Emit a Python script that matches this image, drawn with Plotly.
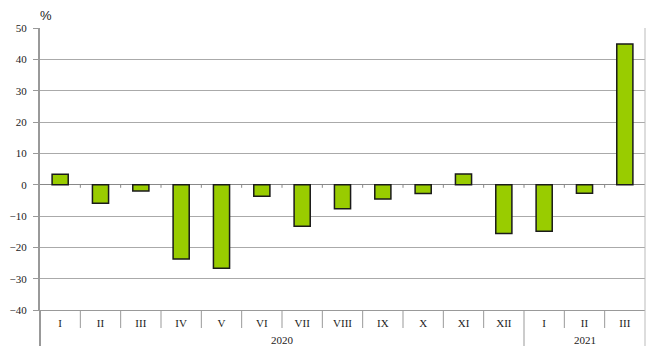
import plotly.graph_objects as go

years = ["2020"] * 12 + ["2021"] * 3
months = ["I", "II", "III", "IV", "V", "VI", "VII", "VIII", "IX", "X", "XI", "XII", "I", "II", "III"]
values = [3.3, -5.9, -2.0, -23.7, -26.7, -3.7, -13.3, -7.7, -4.6, -2.8, 3.4, -15.6, -14.9, -2.7, 44.9]

keys = [f"{y}-{m}" for y, m in zip(years, months)]
n = len(keys)
PLOT_H = 282.0

fig = go.Figure()
fig.add_trace(go.Bar(
    x=keys, y=values,
    marker=dict(color="#99CC00", line=dict(color="#1a1a1a", width=1.5)),
    width=0.4,
))

fig.update_layout(
    width=651, height=361,
    margin=dict(l=40, r=6, t=28, b=51, autoexpand=False),
    paper_bgcolor="white", plot_bgcolor="white",
    showlegend=False,
    font=dict(family="Liberation Serif", size=11, color="#222"),
)
fig.update_xaxes(
    type="category", automargin=False, range=[-0.5, n - 0.5],
    tickmode="array", tickvals=keys, ticktext=months,
    showgrid=False, ticks="", ticklabelstandoff=3,
    showline=True, linecolor="#999",
    tickfont=dict(family="Liberation Serif", size=11, color="#222"),
)
fig.update_yaxes(
    range=[-40, 50], dtick=10, automargin=False,
    showgrid=True, gridcolor="#aaa", gridwidth=1,
    zeroline=True, zerolinecolor="#888", zerolinewidth=1,
    showline=True, linecolor="#999", linewidth=2,
    ticks="outside", ticklen=5, tickcolor="#999", ticklabelstandoff=4,
    tickfont=dict(family="Liberation Serif", size=11, color="#222"),
)
# right border
fig.add_shape(type="line", xref="paper", yref="paper", x0=1, x1=1, y0=-36 / PLOT_H, y1=1,
              line=dict(color="#bbb", width=1))
# left axis extension
fig.add_shape(type="line", xref="paper", yref="paper", x0=0, x1=0, y0=-36 / PLOT_H, y1=0,
              line=dict(color="#999", width=2))
# category boundary ticks (bottom) and small ticks on zero line
for i in range(1, n):
    long = years[i] != years[i - 1]
    fig.add_shape(type="line", xref="paper", yref="paper", x0=i / n, x1=i / n,
                  y0=(-36 if long else -18) / PLOT_H, y1=0,
                  line=dict(color="#999", width=1))
    fig.add_shape(type="line", xref="paper", yref="y", x0=i / n, x1=i / n, y0=0, y1=-1,
                  line=dict(color="#888", width=1))
# year labels
for yr in dict.fromkeys(years):
    idx = [i for i, y in enumerate(years) if y == yr]
    cx = (idx[0] + idx[-1] + 1) / 2 / n
    fig.add_annotation(text=yr, xref="paper", yref="paper", x=cx, y=-30 / PLOT_H,
                       xanchor="center", yanchor="middle", showarrow=False,
                       font=dict(family="Liberation Serif", size=11, color="#222"))
fig.add_annotation(text="%", xref="paper", yref="paper", x=0.0, y=1.0, xanchor="left", yanchor="bottom",
                   xshift=-2, yshift=3, showarrow=False, font=dict(family="Liberation Sans", size=13, color="#222"))
fig.write_html("out.html", config={"displayModeBar": False},
               post_script="document.body.style.margin='0';document.body.style.overflow='hidden';")
